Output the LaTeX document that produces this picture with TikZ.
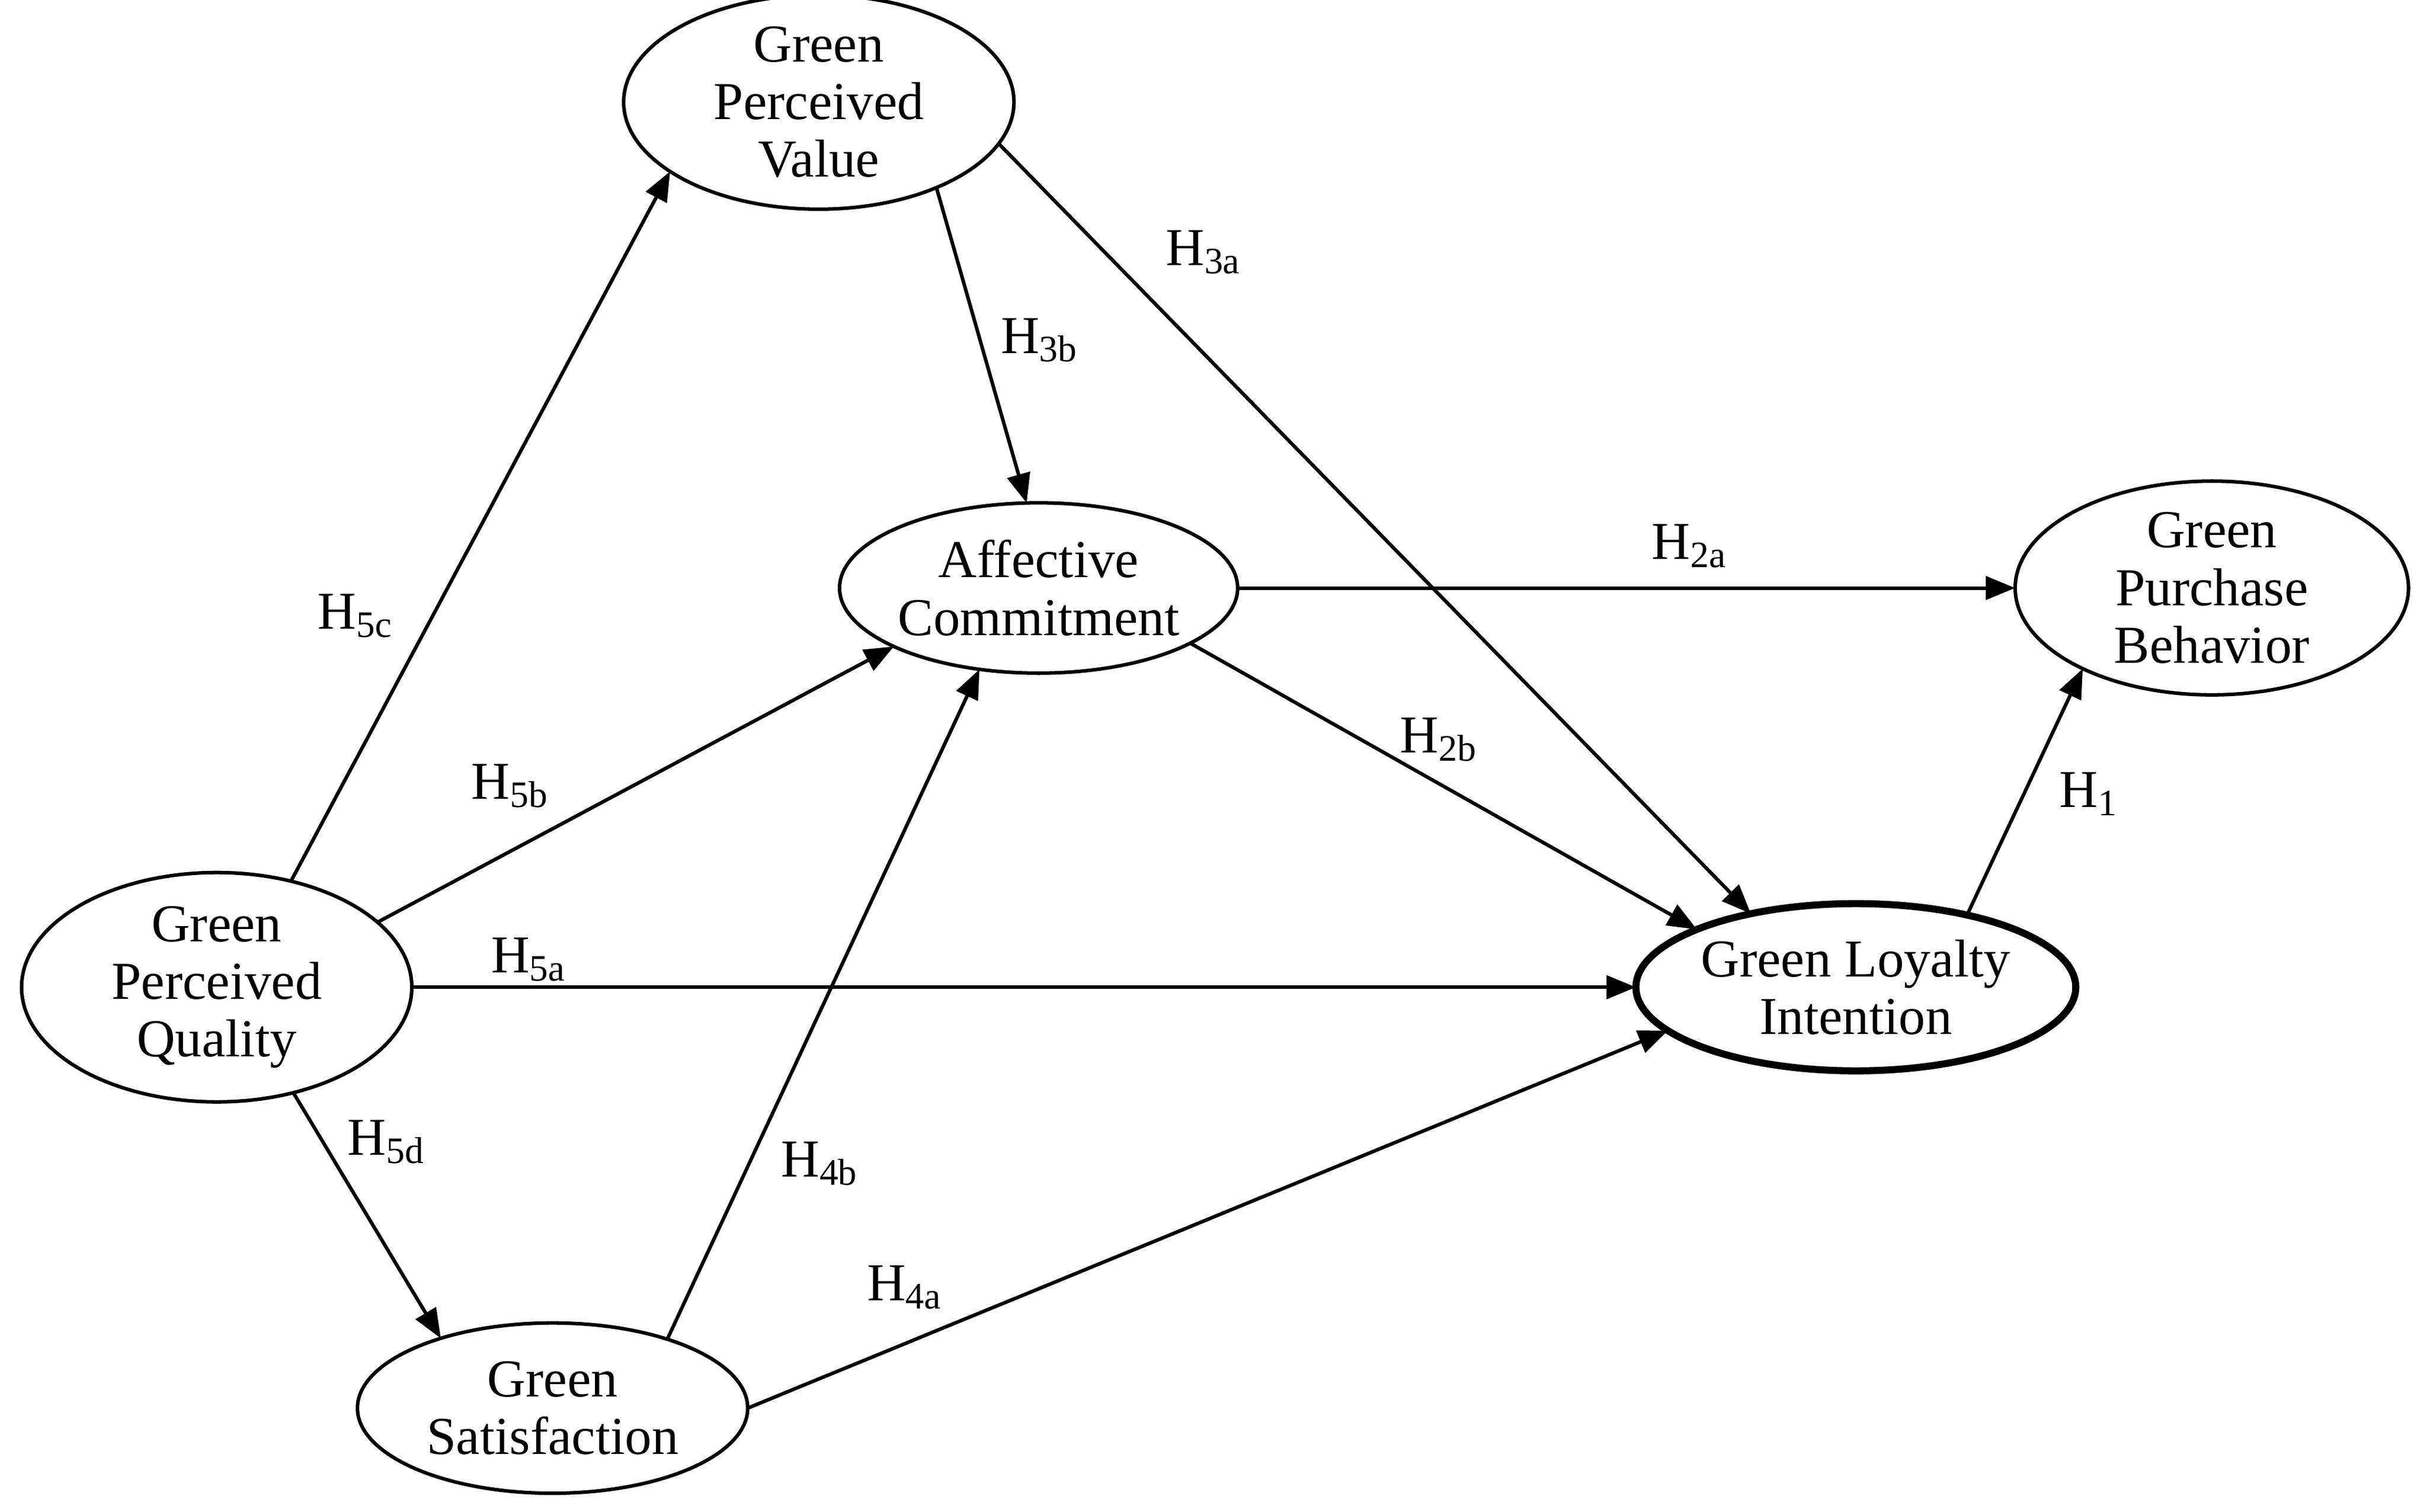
\documentclass[tikz,border=0pt]{standalone}
\usepackage{fontspec}
\setmainfont{Liberation Serif}
\usetikzlibrary{shapes.geometric,arrows.meta}
\begin{document}
\begin{tikzpicture}[x=0.01cm,y=-0.01cm,
  every node/.style={font=\fontsize{9.8}{10.6}\selectfont},
  cons/.style={ellipse,draw,line width=0.65pt,inner sep=0pt,outer sep=0pt,align=center,minimum width=2.52cm,minimum height=1.1cm},
  arr/.style={line width=0.65pt,-{Triangle[length=0.19cm,width=0.15cm]}},
  lab/.style={}]
\useasboundingbox (0,0) rectangle (1568,977);
\node[cons] (gpv) at (529,66) {Green\\Perceived\\Value};
\node[cons] (ac) at (671,380) {Affective\\Commitment};
\node[cons,minimum width=2.54cm] (gpb) at (1429,380) {Green\\Purchase\\Behavior};
\node[cons] (gpq) at (140,638) {Green\\Perceived\\Quality};
\node[cons,line width=1.3pt,minimum width=2.84cm,minimum height=1.08cm] (gli) at (1199,638) {Green Loyalty\\Intention};
\node[cons] (gs) at (357,910) {Green\\Satisfaction};

\draw[arr] (gpq.55.4) -- (gpv.205.3);
\draw[arr] (gpq.22.4) -- (ac.202);
\draw[arr] (gpq.0) -- (gli.180);
\draw[arr] (gpq.-54) -- (gs.148.7);
\draw[arr] (gpv.-36.4) -- (ac.98.8);
\draw[arr] (gpv.-13.2) -- (gli.145.2);
\draw[arr] (ac.0) -- (gpb.180);
\draw[arr] (ac.-20) -- (gli.160.7);
\draw[arr] (gs.31.2) -- (ac.234.4);
\draw[arr] (gs.0) -- (gli.193.6);
\draw[arr] (gli.33.3) -- (gpb.212.4);

\node (l5c) at (230,398) {H\textsubscript{5c}};
\node (l5b) at (330,508) {H\textsubscript{5b}};
\node (l5a) at (342,620) {H\textsubscript{5a}};
\node (l5d) at (250,738) {H\textsubscript{5d}};
\node (l3b) at (672,220) {H\textsubscript{3b}};
\node (l3a) at (778,163) {H\textsubscript{3a}};
\node (l2a) at (1092,353) {H\textsubscript{2a}};
\node (l2b) at (930,478) {H\textsubscript{2b}};
\node (l4b) at (530,752) {H\textsubscript{4b}};
\node (l4a) at (585,832) {H\textsubscript{4a}};
\node (l1) at (1350,513) {H\textsubscript{1}};
\end{tikzpicture}
\end{document}
